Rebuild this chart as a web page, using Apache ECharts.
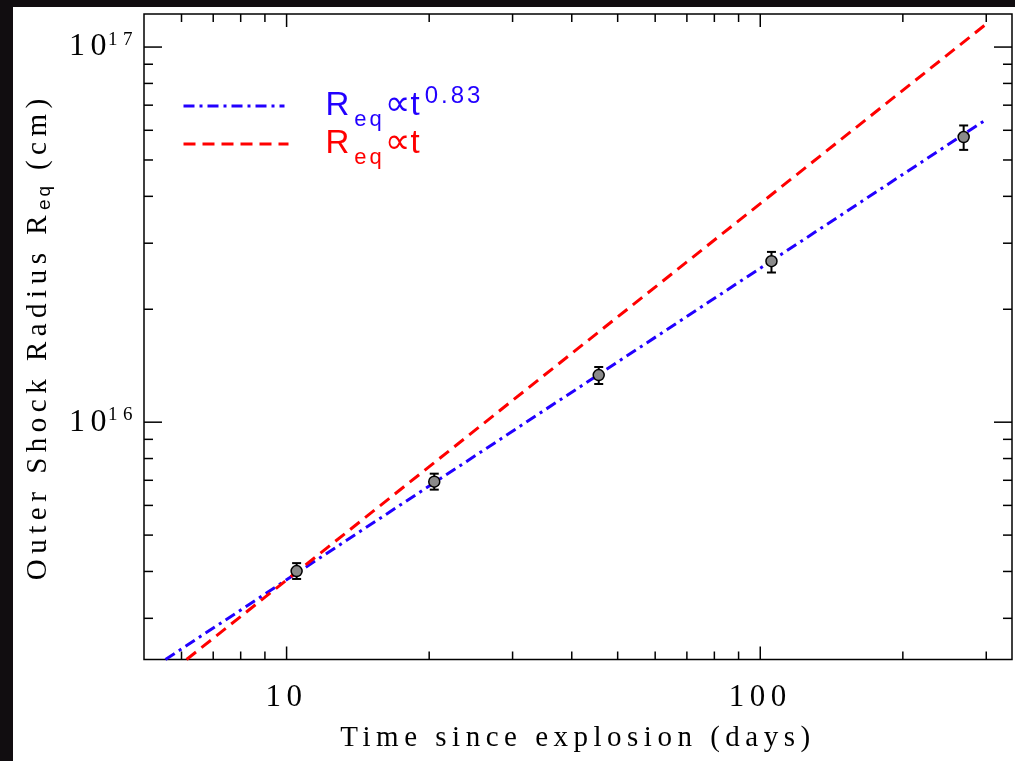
<!DOCTYPE html>
<html>
<head>
<meta charset="utf-8">
<script src="https://cdn.jsdelivr.net/npm/echarts@6/dist/echarts.min.js"></script>
<style>
  html, body { margin: 0; padding: 0; background: #110d10; }
  #chart { width: 1015px; height: 761px; }
</style>
</head>
<body>
<div id="chart"></div>
<script>
// ---- data ----
const timeDays   = [10.5, 20.5, 45.6, 105.6, 268.8];
const radiusCm   = [4.01e15, 6.94e15, 1.335e16, 2.687e16, 5.757e16];
const radiusLow  = [3.82e15, 6.61e15, 1.264e16, 2.506e16, 5.32e16];
const radiusHigh = [4.21e15, 7.29e15, 1.403e16, 2.844e16, 6.18e16];

const fit083Time   = [5.55, 300];
const fit083Radius = [2.33e15, 6.41e16];
const fit1Time     = [6.15, 300];
const fit1Radius   = [2.33e15, 1.152e17];

const xMajorTicks = [10, 100];
const xMinorTicks = [6, 7, 8, 9, 20, 30, 40, 50, 60, 70, 80, 90, 200, 300];
const yMajorTicks = [1e16, 1e17];
const yMinorTicks = [3e15, 4e15, 5e15, 6e15, 7e15, 8e15, 9e15,
                     2e16, 3e16, 4e16, 5e16, 6e16, 7e16, 8e16, 9e16];

const X_MIN = 5, X_MAX = 340;
const Y_MIN = 2.33e15, Y_MAX = 1.225e17;

const BLUE = '#2200ff', RED = '#ff0000';

// letter spacing for wide "IDL-like" text: a font family token SpN adds N px spacing
(function () {
  const P = CanvasRenderingContext2D.prototype;
  const fill = P.fillText, meas = P.measureText;
  function sp(ctx) { const m = /Sp(\d+(?:_\d+)?)/.exec(ctx.font); return m ? m[1].replace('_', '.') + 'px' : null; }
  P.fillText = function (t, x, y, w) {
    const s = sp(this);
    if (s && 'letterSpacing' in this) { const o = this.letterSpacing; this.letterSpacing = s; fill.call(this, t, x, y, w); this.letterSpacing = o; }
    else if (w === undefined) fill.call(this, t, x, y); else fill.call(this, t, x, y, w);
  };
  P.measureText = function (t) {
    const s = sp(this);
    if (s && 'letterSpacing' in this) { const o = this.letterSpacing; this.letterSpacing = s; const r = meas.call(this, t); this.letterSpacing = o; return r; }
    return meas.call(this, t);
  };
})();

const SERIF = 'Liberation Serif';
const SERIF_SP = 'Liberation Serif, Sp5_5';
const SANS_SP = 'Liberation Sans, Sp5';

function isPow10(v) { const l = Math.log10(v); return Math.abs(l - Math.round(l)) < 1e-6; }

function xTickItem(params, api) {
  const v = api.value(0);
  const b = api.coord([v, Y_MIN]), t = api.coord([v, Y_MAX]);
  const len = xMajorTicks.indexOf(v) >= 0 ? 13 : 8;
  const st = { stroke: '#000', lineWidth: 1.5 };
  return { type: 'group', children: [
    { type: 'line', shape: { x1: b[0], y1: b[1], x2: b[0], y2: b[1] - len }, style: st },
    { type: 'line', shape: { x1: t[0], y1: t[1], x2: t[0], y2: t[1] + len }, style: st }
  ]};
}
function yTickItem(params, api) {
  const v = api.value(1);
  const l = api.coord([X_MIN, v]), r = api.coord([X_MAX, v]);
  const len = yMajorTicks.indexOf(v) >= 0 ? 18 : 9;
  const st = { stroke: '#000', lineWidth: 1.5 };
  return { type: 'group', children: [
    { type: 'line', shape: { x1: l[0], y1: l[1], x2: l[0] + len, y2: l[1] }, style: st },
    { type: 'line', shape: { x1: r[0], y1: r[1], x2: r[0] - len, y2: r[1] }, style: st }
  ]};
}
function errItem(params, api) {
  const t = api.value(0);
  const lo = api.coord([t, api.value(1)]), hi = api.coord([t, api.value(2)]);
  const w = 4.5;
  const st = { stroke: '#000', lineWidth: 2 };
  return { type: 'group', children: [
    { type: 'line', shape: { x1: lo[0], y1: lo[1], x2: hi[0], y2: hi[1] }, style: st },
    { type: 'line', shape: { x1: lo[0] - w, y1: lo[1], x2: lo[0] + w, y2: lo[1] }, style: st },
    { type: 'line', shape: { x1: hi[0] - w, y1: hi[1], x2: hi[0] + w, y2: hi[1] }, style: st }
  ]};
}

function legendRich(pad) {
  return {
    r:   { fontFamily: SANS_SP, fontSize: 33, lineHeight: 46, verticalAlign: 'middle' },
    r0:  { fontFamily: SANS_SP, fontSize: 33, lineHeight: 46, verticalAlign: 'middle', padding: [0, 0, 0, pad] },
    sub: { fontFamily: 'Liberation Sans, Sp3', fontSize: 22, verticalAlign: 'bottom', lineHeight: 22, padding: [0, 0, -3, 0] },
    pr:  { fontFamily: 'DejaVu Sans', fontSize: 36, verticalAlign: 'middle', lineHeight: 46 },
    sup: { fontFamily: 'Liberation Sans, Sp3', fontSize: 24, verticalAlign: 'top', lineHeight: 24 }
  };
}
const NAME_083 = 'Req \u221D t^0.83';
const NAME_1 = 'Req \u221D t';

const chart = echarts.init(document.getElementById('chart'), null, { renderer: 'canvas' });
chart.setOption({
  animation: false,
  backgroundColor: '#110d10',
  graphic: [{ type: 'rect', z: -100, silent: true, shape: { x: 13, y: 7, width: 1002, height: 754 }, style: { fill: '#ffffff' } }],
  grid: { left: 144, right: 3, top: 14, bottom: 96, show: true, borderColor: '#000', borderWidth: 1.5, backgroundColor: '#fff' },
  legend: [
    { data: [NAME_083], left: 182, top: 83, padding: 0, itemWidth: 101, itemHeight: 14, selectedMode: false,
      itemStyle: { color: 'transparent', borderWidth: 0, opacity: 0 },
      lineStyle: { color: BLUE, width: 3, type: [11, 5, 3, 5] },
      textStyle: { color: BLUE, rich: legendRich(36) },
      formatter: () => '{r0|R}{sub|eq}{pr|\u221D}{r|t}{sup|0.83}' },
    { data: [NAME_1], left: 182, top: 125, padding: 0, itemWidth: 105, itemHeight: 14, selectedMode: false,
      itemStyle: { color: 'transparent', borderWidth: 0, opacity: 0 },
      lineStyle: { color: RED, width: 3, type: [12, 7] },
      textStyle: { color: RED, rich: legendRich(32) },
      formatter: () => '{r0|R}{sub|eq}{pr|\u221D}{r|t}' }
  ],
  xAxis: {
    type: 'log', logBase: 10, min: X_MIN, max: X_MAX,
    name: 'Time since explosion (days)', nameLocation: 'middle', nameGap: 62,
    nameTextStyle: { fontFamily: SERIF_SP, fontSize: 29, color: '#000' },
    axisLine: { show: false }, axisTick: { show: false }, splitLine: { show: false }, minorTick: { show: false },
    axisLabel: { interval: 0, margin: 23, fontFamily: SERIF, fontSize: 31, color: '#000',
      showMinLabel: true, showMaxLabel: true,
      formatter: v => isPow10(v) ? String(Math.round(v)) : '' }
  },
  yAxis: {
    type: 'log', logBase: 10, min: Y_MIN, max: Y_MAX,
    name: '{a|Outer Shock Radius R}{s|eq}{a| (cm)}', nameLocation: 'middle', nameGap: 88,
    nameTextStyle: { color: '#000', rich: {
      a: { fontFamily: SERIF_SP, fontSize: 29, lineHeight: 36, verticalAlign: 'middle' },
      s: { fontFamily: 'Liberation Sans, Sp3', fontSize: 19, verticalAlign: 'bottom', lineHeight: 19 }
    } },
    axisLine: { show: false }, axisTick: { show: false }, splitLine: { show: false }, minorTick: { show: false },
    axisLabel: { interval: 0, margin: 6, color: '#000',
      formatter: v => isPow10(v) ? '{b|10}{s|' + Math.round(Math.log10(v)) + '}' : '',
      rich: {
        b: { fontFamily: SERIF, fontSize: 32, lineHeight: 34, verticalAlign: 'middle' },
        s: { fontFamily: SERIF, fontSize: 19, lineHeight: 19, verticalAlign: 'top', padding: [0, 0, 0, 7] }
      } }
  },
  series: [
    { name: NAME_083, type: 'line', symbol: 'none', z: 3,
      data: fit083Time.map((t, i) => [t, fit083Radius[i]]),
      lineStyle: { color: BLUE, width: 3, type: [11, 5, 3, 5] }, itemStyle: { color: BLUE } },
    { name: NAME_1, type: 'line', symbol: 'none', z: 3,
      data: fit1Time.map((t, i) => [t, fit1Radius[i]]),
      lineStyle: { color: RED, width: 3, type: [12, 7] }, itemStyle: { color: RED } },
    { name: 'err', type: 'custom', renderItem: errItem, z: 4, silent: true,
      encode: { x: 0, y: [1, 2] },
      data: timeDays.map((t, i) => [t, radiusLow[i], radiusHigh[i]]) },
    { name: 'pts', type: 'scatter', z: 5, symbol: 'circle', symbolSize: 11, silent: true,
      itemStyle: { color: '#8a8a8a', borderColor: '#000', borderWidth: 1.5, opacity: 1 },
      data: timeDays.map((t, i) => [t, radiusCm[i]]) },
    { name: 'xticks', type: 'custom', renderItem: xTickItem, z: 6, silent: true,
      encode: { x: 0, y: 1 },
      data: xMajorTicks.concat(xMinorTicks).map(v => [v, Y_MIN]) },
    { name: 'yticks', type: 'custom', renderItem: yTickItem, z: 6, silent: true,
      encode: { x: 0, y: 1 },
      data: yMajorTicks.concat(yMinorTicks).map(v => [X_MIN, v]) }
  ]
});
</script>
</body>
</html>
